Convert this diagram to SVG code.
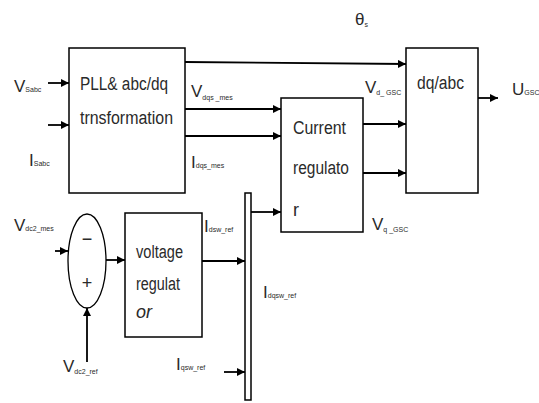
<svg xmlns="http://www.w3.org/2000/svg" width="539" height="403" viewBox="0 0 539 403">
<defs>
<marker id="ah" markerWidth="8" markerHeight="8" refX="8" refY="4" orient="auto" markerUnits="userSpaceOnUse">
<path d="M0,0 L8,4 L0,8 Z" fill="#000"/>
</marker>
<style>
.box{fill:#fff;stroke:#000;stroke-width:1.5}
.ln{fill:none;stroke:#000;stroke-width:1.8;marker-end:url(#ah)}
.t{font-family:"Liberation Sans Narrow","Liberation Sans",sans-serif;font-size:18px;fill:#2a2a2a}
.l{font-family:"Liberation Sans Narrow","Liberation Sans",sans-serif;font-size:17px;fill:#2a2a2a}
.s{font-size:7px}
</style>
</defs>
<rect width="539" height="403" fill="#fff"/>
<g id="connectors">
<line class="ln" x1="48" y1="83" x2="69" y2="83"/>
<line class="ln" x1="48" y1="125" x2="69" y2="125"/>
<line class="ln" x1="185" y1="62" x2="406" y2="64"/>
<line class="ln" x1="185" y1="109" x2="281" y2="109"/>
<line class="ln" x1="185" y1="136" x2="281" y2="136"/>
<line class="ln" x1="363" y1="124" x2="406" y2="124"/>
<line class="ln" x1="363" y1="173" x2="406" y2="173"/>
<line class="ln" x1="478" y1="98" x2="498" y2="98"/>
<line class="ln" x1="55" y1="251" x2="68" y2="251"/>
<line class="ln" x1="106" y1="260" x2="125" y2="260"/>
<line class="ln" x1="87" y1="362" x2="87" y2="308"/>
<line class="ln" x1="202" y1="261" x2="245" y2="261"/>
<line class="ln" x1="251" y1="212" x2="281" y2="212"/>
<line class="ln" x1="224" y1="372" x2="245" y2="372"/>
</g>
<g id="pll">
<rect class="box" x="69" y="48" width="116" height="145"/>
<text class="t" x="80" y="90" textLength="88" lengthAdjust="spacingAndGlyphs">PLL&amp; abc/dq</text>
<text class="t" x="80" y="124" textLength="93" lengthAdjust="spacingAndGlyphs">trnsformation</text>
</g>
<g id="current-regulator">
<rect class="box" x="281" y="98" width="82" height="134"/>
<text class="t" x="293" y="134" textLength="53" lengthAdjust="spacingAndGlyphs">Current</text>
<text class="t" x="293" y="174" textLength="56" lengthAdjust="spacingAndGlyphs">regulato</text>
<text class="t" x="293" y="216">r</text>
</g>
<g id="dqabc">
<rect class="box" x="406" y="48" width="72" height="145"/>
<text class="t" x="417" y="89" textLength="47" lengthAdjust="spacingAndGlyphs">dq/abc</text>
</g>
<g id="sum">
<ellipse cx="87" cy="261" rx="19" ry="47" fill="#fff" stroke="#000" stroke-width="1.3"/>
<text class="t" x="87" y="245" text-anchor="middle">−</text>
<text class="t" x="87" y="289" text-anchor="middle" font-size="11">+</text>
</g>
<g id="voltage-regulator">
<rect class="box" x="125" y="213" width="77" height="124"/>
<text class="t" x="136" y="258" textLength="47" lengthAdjust="spacingAndGlyphs">voltage</text>
<text class="t" x="136" y="290" textLength="44" lengthAdjust="spacingAndGlyphs">regulat</text>
<text class="t" x="136" y="318" font-size="10" font-style="italic">or</text>
</g>
<g id="bar">
<rect class="box" x="245" y="193" width="6" height="207"/>
</g>
<g id="labels">
<text class="l" x="14" y="92">V<tspan class="s">Sabc</tspan></text>
<text class="l" x="29" y="166" font-size="14">I<tspan class="s">Sabc</tspan></text>
<text class="l" x="191" y="97">V<tspan class="s" dy="3">dqs _mes</tspan></text>
<text class="l" x="191" y="168" font-size="14">I<tspan class="s">dqs_mes</tspan></text>
<text class="l" x="355" y="25" font-size="13">θ<tspan class="s" dy="2">s</tspan></text>
<text class="l" x="365" y="93">V<tspan class="s" dy="2">d_ GSC</tspan></text>
<text class="l" x="372" y="230">V<tspan class="s" dy="2">q _GSC</tspan></text>
<text class="l" x="512" y="95">U<tspan class="s">GSC</tspan></text>
<text class="l" x="14" y="231">V<tspan class="s">dc2_mes</tspan></text>
<text class="l" x="63" y="372">V<tspan class="s" dy="2">dc2_ref</tspan></text>
<text class="l" x="204" y="232" font-size="13">I<tspan class="s">dsw_ref</tspan></text>
<text class="l" x="263" y="298" font-size="13">I<tspan class="s">dqsw_ref</tspan></text>
<text class="l" x="176" y="370" font-size="13">I<tspan class="s">qsw_ref</tspan></text>
</g>
</svg>
